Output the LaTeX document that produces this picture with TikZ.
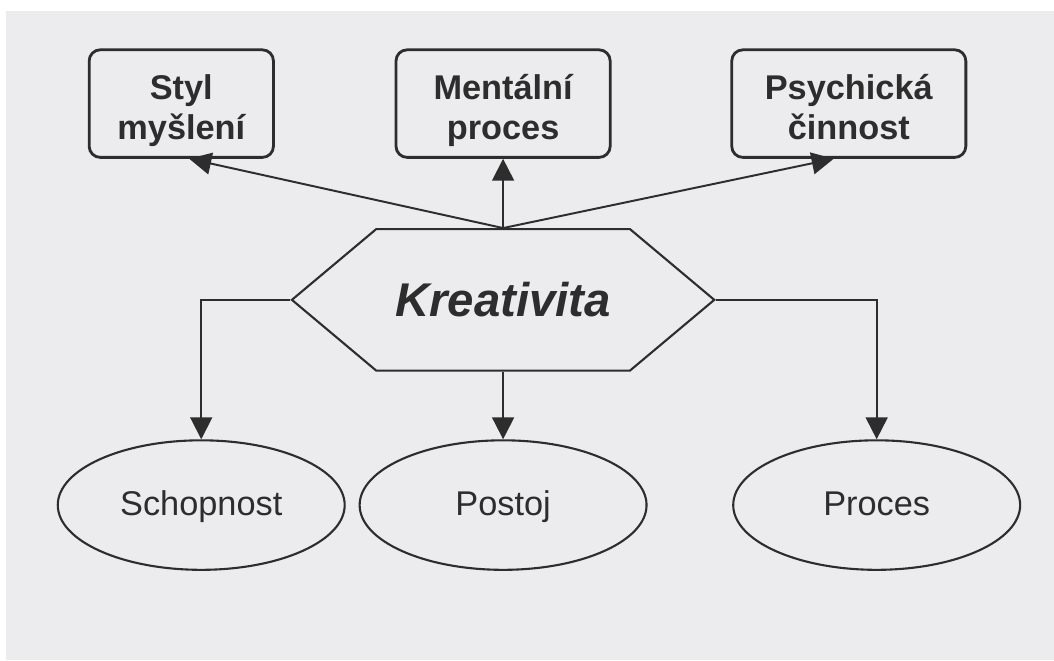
\documentclass[tikz,border=0pt]{standalone}
\usepackage{fontspec}
\setmainfont{Liberation Sans}
\usepackage{xcolor}
\usepackage{tikz}
\usetikzlibrary{arrows.meta,shapes.geometric,shapes.symbols}
\definecolor{paper}{RGB}{236,236,238}
\definecolor{ink}{RGB}{45,45,45}

\tikzset{
  topbox/.style={draw=ink, line width=2pt, rounded corners=0.28cm, align=center,
    text=ink, font=\fontsize{24.5}{28.5}\selectfont\bfseries,
    text height=1.95cm, text depth=0.15cm,
    minimum height=2.7cm, inner sep=0pt},
  oval/.style={draw=ink, line width=1.5pt, ellipse, text=ink,
    font=\fontsize{24.5}{28}\selectfont, text height=0.7cm, text depth=0.2cm,
    minimum width=7.2cm, minimum height=3.25cm, inner sep=0pt},
  hexa/.style={draw=ink, line width=1.5pt, signal, signal to=west and east,
    signal pointer angle=80, text=ink, font=\fontsize{33.8}{36}\selectfont\bfseries\itshape,
    minimum width=10.6cm, minimum height=3.55cm, inner sep=0pt},
  arr/.style={-{Triangle[length=5.5mm, width=5.5mm]}, line width=1.4pt, draw=ink}
}

\begin{document}
\begin{tikzpicture}
\fill[white] (0,0) rectangle (26.35,16.475);
\fill[paper] (0.15,-0.1) rectangle (26.45,16.2);
\useasboundingbox (0,0) rectangle (26.35,16.475);

% upper row
\node[topbox, minimum width=4.625cm] (styl) at (4.55,13.875) {Styl\\myšlení};
\node[topbox, minimum width=5.375cm] (ment) at (12.625,13.875) {Mentální\\proces};
\node[topbox, minimum width=5.875cm] (psych) at (21.3,13.875) {Psychická\\činnost};

\node[hexa] (kreat) at (12.625,8.95) {Kreativita};

% lower row
\node[oval] (schop) at (5.05,3.8) {Schopnost};
\node[oval] (postoj) at (12.625,3.8) {Postoj};
\node[oval] (proces) at (22.0,3.8) {Proces};

\draw[arr] (kreat.north) -- ([xshift=0.2cm]styl.south);
\draw[arr] (kreat.north) -- (ment.south);
\draw[arr] (kreat.north) -- ([xshift=-0.38cm]psych.south);

\draw[arr] (kreat.west) -| (schop.north);
\draw[arr] (kreat.south) -- (postoj.north);
\draw[arr] (kreat.east) -| (proces.north);
\end{tikzpicture}
\end{document}
